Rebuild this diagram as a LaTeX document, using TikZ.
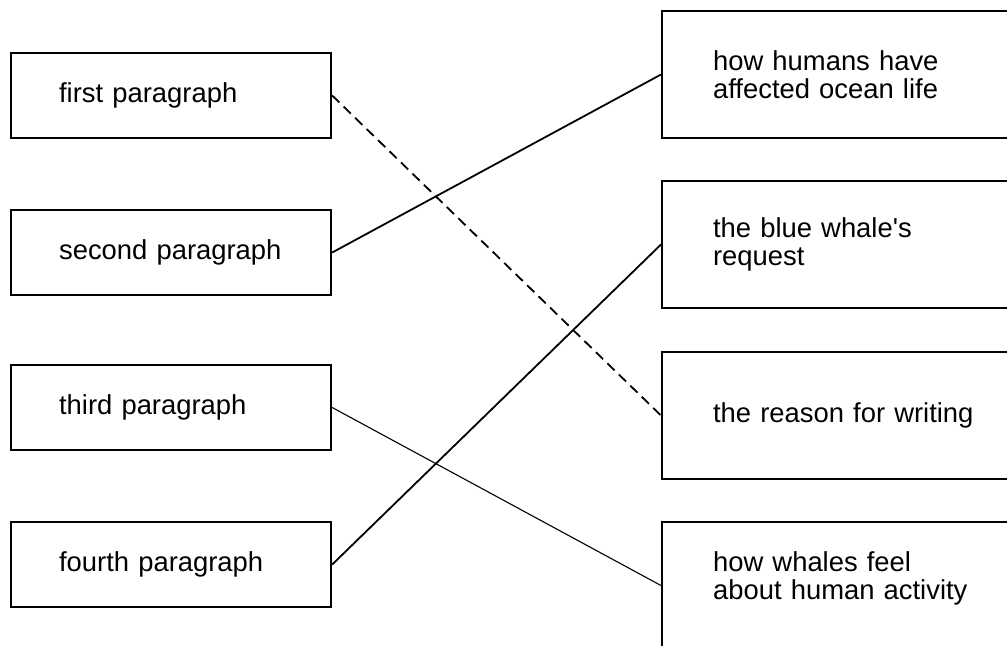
\documentclass[tikz,border=0pt]{standalone}
\usepackage{fontspec}
\setmainfont{Liberation Sans}
\usepackage{tikz}
\usepackage{xcolor}
\tikzset{
    para-box/.style = {draw=black, line width=1.1pt, rectangle, anchor=west, align=left, text width=112pt, inner xsep=24pt, inner ysep=0pt, minimum height=42.5pt, font=\fontsize{13.7pt}{14pt}\selectfont},
    topic-box/.style = {draw=black, line width=1.1pt, rectangle, anchor=west, align=left, text width=140pt, inner xsep=25.5pt, inner ysep=0pt, minimum height=63.5pt, font=\fontsize{13.7pt}{14pt}\selectfont},
    link-line/.style = {draw=black, line width=0.9pt},
}

\begin{document}
\begin{tikzpicture}[x=0.5pt, y=-0.5pt]
\clip (0,0) rectangle (1007,645);
\fill[white] (0,0) rectangle (1007,645);
% paragraphs
\node [para-box] (first) at (10,95.5) {first paragraph};
\node [para-box] (second) at (10,252.5) {second paragraph};
\node [para-box] (third) at (10,407.5) {third paragraph};
\node [para-box] (fourth) at (10,564.5) {fourth paragraph};
% topics
\node [topic-box] (humans) at (661,74.5) {how humans have\\affected ocean life};
\node [topic-box] (request) at (661,244.5) {the blue whale\textquotesingle s\\request};
\node [topic-box] (reason) at (661,415.5) {the reason for writing};
\node [topic-box] (feel) at (661,585.5) {how whales feel\\about human activity\\[-4pt]\mbox{}};
% matches
\draw [link-line, dash pattern=on 5pt off 3pt] (first.east) -- (reason.west);
\draw [link-line] (second.east) -- (humans.west);
\draw [link-line, line width=0.55pt] (third.east) -- (feel.west);
\draw [link-line] (fourth.east) -- (request.west);
\end{tikzpicture}
\end{document}
